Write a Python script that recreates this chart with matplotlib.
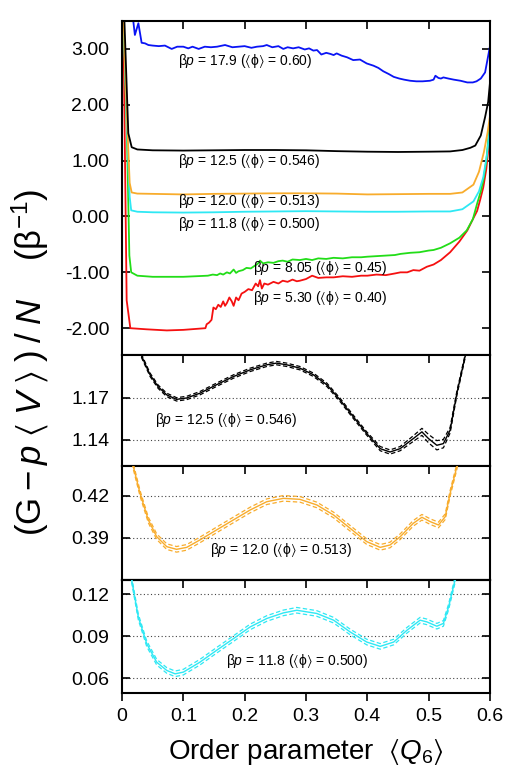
import matplotlib
matplotlib.use('Agg')
import matplotlib.pyplot as plt
from matplotlib.ticker import FormatStrFormatter
import numpy as np

plt.rcParams['font.family'] = ['Liberation Sans', 'DejaVu Sans']
plt.rcParams['mathtext.fontset'] = 'custom'
plt.rcParams['mathtext.rm'] = 'Liberation Sans'
plt.rcParams['mathtext.it'] = 'Liberation Sans:italic'
plt.rcParams['mathtext.bf'] = 'Liberation Sans:bold'
plt.rcParams['mathtext.fallback'] = 'stixsans'
plt.rcParams['axes.unicode_minus'] = False

# ---------------- data: top panel ----------------
x_179 = [0.004, 0.015, 0.0185, 0.021, 0.0267, 0.032, 0.0375, 0.043, 0.05, 0.06, 0.07, 0.081, 0.09, 0.1,
         0.108, 0.115, 0.125, 0.135, 0.145, 0.155, 0.168, 0.18, 0.19, 0.2, 0.211, 0.22, 0.23, 0.236,
         0.245, 0.255, 0.263, 0.27, 0.279, 0.288, 0.298, 0.305, 0.312, 0.318, 0.325, 0.333, 0.34, 0.345,
         0.35, 0.358, 0.367, 0.377, 0.388, 0.399, 0.41, 0.418, 0.426, 0.435, 0.443, 0.452, 0.46, 0.47,
         0.48, 0.49, 0.502, 0.508, 0.511, 0.516, 0.52, 0.524, 0.532, 0.541, 0.552, 0.563, 0.572, 0.578,
         0.585, 0.592, 0.6]
y_179 = [3.75, 3.55, 3.49, 3.25, 3.46, 3.11, 3.10, 3.07, 3.06, 3.05, 3.06, 3.00, 3.04, 3.04,
         3.01, 3.04, 3.00, 3.04, 3.03, 3.04, 3.07, 3.03, 3.04, 3.05, 3.02, 3.04, 3.05, 3.07,
         3.03, 3.05, 3.00, 3.03, 3.01, 3.03, 2.99, 3.01, 2.97, 2.98, 2.90, 2.93, 2.91, 2.89,
         2.92, 2.88, 2.85, 2.80, 2.81, 2.74, 2.70, 2.66, 2.60, 2.55, 2.50, 2.47, 2.45, 2.43,
         2.42, 2.42, 2.43, 2.45, 2.52, 2.48, 2.47, 2.49, 2.47, 2.45, 2.43, 2.40, 2.40, 2.42,
         2.47, 2.58, 3.05]

x_125 = [0.003, 0.0103, 0.0158, 0.025, 0.05, 0.1, 0.15, 0.2, 0.25, 0.3, 0.35, 0.4, 0.45, 0.5,
         0.535, 0.555, 0.568, 0.576, 0.585, 0.592, 0.597, 0.6]
y_125 = [3.8, 1.49, 1.24, 1.2, 1.185, 1.18, 1.185, 1.19, 1.19, 1.185, 1.17, 1.16, 1.155, 1.16,
         1.165, 1.19, 1.23, 1.27, 1.45, 1.78, 2.05, 2.4]

x_120 = [0.002, 0.008, 0.0125, 0.0158, 0.025, 0.05, 0.1, 0.15, 0.2, 0.25, 0.3, 0.35, 0.4, 0.45,
         0.5, 0.535, 0.555, 0.573, 0.582, 0.59, 0.596, 0.6]
y_120 = [3.7, 1.8, 0.6, 0.43, 0.41, 0.405, 0.395, 0.405, 0.41, 0.415, 0.415, 0.41, 0.395, 0.4,
         0.405, 0.405, 0.43, 0.57, 0.8, 1.15, 1.5, 1.8]

x_118 = [0.002, 0.008, 0.0125, 0.015, 0.025, 0.05, 0.1, 0.15, 0.2, 0.25, 0.3, 0.35, 0.4, 0.45,
         0.5, 0.535, 0.555, 0.573, 0.582, 0.589, 0.595, 0.6]
y_118 = [3.7, 1.6, 0.35, 0.11, 0.085, 0.075, 0.07, 0.075, 0.085, 0.09, 0.095, 0.09, 0.085, 0.085,
         0.09, 0.09, 0.13, 0.27, 0.45, 0.70, 1.1, 1.6]

x_805 = [0.002, 0.008, 0.012, 0.015, 0.025, 0.05, 0.08, 0.1, 0.12, 0.14, 0.148, 0.155, 0.16, 0.165,
         0.171, 0.176, 0.182, 0.186, 0.19, 0.197, 0.203, 0.21, 0.218, 0.222, 0.225, 0.23, 0.238,
         0.247, 0.255, 0.262, 0.27, 0.278, 0.29, 0.3, 0.31, 0.32, 0.333, 0.345, 0.36, 0.375, 0.39,
         0.4, 0.415, 0.43, 0.445, 0.454, 0.47, 0.485, 0.5, 0.508, 0.52, 0.535, 0.55, 0.562, 0.572,
         0.579, 0.585, 0.589, 0.594, 0.6]
y_805 = [3.7, 1.5, -0.7, -1.0, -1.06, -1.08, -1.08, -1.08, -1.07, -1.06, -1.04, -1.05, -1.02, -1.04,
         -1.0, -1.02, -0.95, -1.01, -0.98, -0.96, -0.92, -0.93, -0.87, -0.84, -0.79, -0.84, -0.82,
         -0.83, -0.80, -0.79, -0.81, -0.77, -0.78, -0.76, -0.78, -0.75, -0.76, -0.74, -0.75, -0.73,
         -0.73, -0.72, -0.71, -0.70, -0.69, -0.67, -0.65, -0.64, -0.61, -0.60, -0.56, -0.48, -0.38,
         -0.25, -0.05, 0.23, 0.45, 0.64, 1.0, 1.7]

x_530 = [0.002, 0.0076, 0.0136, 0.04, 0.073, 0.1, 0.136, 0.138, 0.142, 0.146, 0.149, 0.153, 0.157,
         0.161, 0.165, 0.168, 0.171, 0.175, 0.179, 0.182, 0.186, 0.19, 0.195, 0.2, 0.206, 0.212,
         0.218, 0.222, 0.225, 0.228, 0.232, 0.238, 0.247, 0.255, 0.262, 0.27, 0.278, 0.285, 0.29,
         0.3, 0.31, 0.32, 0.333, 0.345, 0.36, 0.375, 0.39, 0.4, 0.415, 0.43, 0.445, 0.454, 0.465,
         0.475, 0.485, 0.497, 0.508, 0.52, 0.535, 0.55, 0.563, 0.572, 0.579, 0.584, 0.589, 0.594, 0.6]
y_530 = [3.7, -1.5, -2.0, -2.02, -2.04, -2.03, -2.0, -1.93, -1.9, -1.85, -1.63, -1.66, -1.58,
         -1.62, -1.52, -1.60, -1.55, -1.45, -1.52, -1.60, -1.45, -1.50, -1.38, -1.35, -1.30, -1.32,
         -1.20, -1.25, -1.14, -1.29, -1.20, -1.22, -1.17, -1.20, -1.15, -1.17, -1.13, -1.16, -1.15,
         -1.12, -1.06, -1.10, -1.09, -1.09, -1.07, -1.08, -1.06, -1.06, -1.04, -1.05, -1.02, -1.0,
         -1.0, -0.96, -0.97, -0.9, -0.86, -0.78, -0.64, -0.45, -0.25, -0.05, 0.1, 0.3, 0.52, 0.85, 1.5]

# ---------------- data: detail panels ----------------
xd_125 = [0.026, 0.032, 0.0457, 0.059, 0.073, 0.089, 0.1055, 0.127, 0.154, 0.1816, 0.209, 0.236,
          0.2518, 0.2686, 0.29, 0.312, 0.334, 0.3556, 0.377, 0.399, 0.421, 0.437, 0.4535, 0.475,
          0.489, 0.4997, 0.5133, 0.524, 0.535, 0.546, 0.5595, 0.565]
yd_125 = [1.215, 1.1999, 1.1866, 1.178, 1.1722, 1.169, 1.170, 1.1734, 1.1794, 1.1853, 1.1901, 1.1937,
          1.1949, 1.1937, 1.1913, 1.1866, 1.1794, 1.1686, 1.1566, 1.1446, 1.1338, 1.1314, 1.1338,
          1.1410, 1.1458, 1.141, 1.1362, 1.1374, 1.147, 1.1734, 1.1999, 1.215]
ed_125 = [0.0012] * 20 + [0.0015, 0.0015, 0.0015, 0.002, 0.0025, 0.003, 0.0033, 0.003, 0.002,
                          0.0015, 0.0012, 0.0012]

xd_120 = [0.012, 0.0185, 0.0294, 0.0429, 0.0566, 0.073, 0.089, 0.1055, 0.127, 0.154, 0.1816, 0.209,
          0.236, 0.263, 0.29, 0.3176, 0.345, 0.372, 0.399, 0.421, 0.437, 0.4535, 0.475, 0.489,
          0.5024, 0.516, 0.527, 0.535, 0.546, 0.552]
yd_120 = [0.46, 0.441, 0.4219, 0.4029, 0.3909, 0.3838, 0.3819, 0.3833, 0.3886, 0.3957, 0.4029, 0.41,
          0.4159, 0.4183, 0.4176, 0.4136, 0.4064, 0.3969, 0.3874, 0.3833, 0.385, 0.3909, 0.4005,
          0.4048, 0.4017, 0.3993, 0.4052, 0.4219, 0.441, 0.46]
ed_120 = 0.002

xd_118 = [0.01, 0.0158, 0.0266, 0.0403, 0.0566, 0.073, 0.0865, 0.1, 0.127, 0.154, 0.1816, 0.209,
          0.236, 0.263, 0.285, 0.3176, 0.345, 0.372, 0.399, 0.421, 0.443, 0.4646, 0.486, 0.497,
          0.5133, 0.524, 0.5325, 0.543, 0.55]
yd_118 = [0.15, 0.13, 0.1036, 0.0845, 0.0713, 0.0654, 0.063, 0.0642, 0.0713, 0.0797, 0.0881, 0.0965,
          0.1025, 0.1065, 0.1084, 0.1061, 0.1013, 0.0929, 0.0857, 0.0826, 0.0857, 0.0941, 0.1013,
          0.1001, 0.097, 0.099, 0.1108, 0.13, 0.15]
ed_118 = 0.002

labels_top = ['17.9', '12.5', '12.0', '11.8', '8.05', '5.30']
phis_top = ['0.60', '0.546', '0.513', '0.500', '0.45', '0.40']
xticks = [0, 0.1, 0.2, 0.3, 0.4, 0.5, 0.6]
xticklabels = ['0', '0.1', '0.2', '0.3', '0.4', '0.5', '0.6']

C_BLUE = '#0a14f5'
C_BLACK = '#000000'
C_ORANGE = '#f8ac2c'
C_CYAN = '#2ee8f4'
C_GREEN = '#22dd18'
C_RED = '#f51010'

# ---------------- figure ----------------
fig = plt.figure(figsize=(5.18, 7.84), dpi=100)
L, W = 122 / 518, 368 / 518


def rect(top, bot):
    return [L, 1 - bot / 784, W, (bot - top) / 784]


ax1 = fig.add_axes(rect(21, 355))
ax2 = fig.add_axes(rect(355, 466))
ax3 = fig.add_axes(rect(466, 580))
ax4 = fig.add_axes(rect(580, 693))

for ax in (ax1, ax2, ax3, ax4):
    ax.set_xlim(0, 0.6)
    ax.set_xticks(xticks)
    for s in ax.spines.values():
        s.set_linewidth(1.5)
    ax.tick_params(axis='y', direction='in', length=6, width=1.2, left=True, right=True,
                   labelsize=14, pad=9)
    ax.tick_params(axis='x', direction='in', length=6, width=1.2, top=True, bottom=False,
                   labelbottom=False)
    ax.yaxis.set_major_formatter(FormatStrFormatter('%.2f'))

# top panel
ax1.set_ylim(-2.48, 3.5)
ax1.set_yticks([-2, -1, 0, 1, 2, 3])
lw = 1.3
ax1.plot(x_530, y_530, color=C_RED, lw=lw)
ax1.plot(x_805, y_805, color=C_GREEN, lw=lw)
ax1.plot(x_118, y_118, color=C_CYAN, lw=lw)
ax1.plot(x_120, y_120, color=C_ORANGE, lw=lw)
ax1.plot(x_125, y_125, color=C_BLACK, lw=lw)
ax1.plot(x_179, y_179, color=C_BLUE, lw=lw)

fs_ann = 10


def ann(b, ph):
    return r'$\mathrm{\beta}p$ = ' + b + r' ($\langle\mathrm{\phi}\rangle$ = ' + ph + ')'


label_pos = [(0.092, 2.78), (0.092, 0.99), (0.092, 0.27), (0.092, -0.13), (0.214, -0.93), (0.213, -1.46)]
for (lx, ly), b, ph in zip(label_pos, labels_top, phis_top):
    ax1.text(lx, ly, ann(b, ph), fontsize=fs_ann, va='center', ha='left')


def detail(ax, x, y, e, color, ylim, yticks, lx, ly, b, ph):
    x = np.asarray(x)
    y = np.asarray(y)
    e = np.broadcast_to(np.asarray(e, dtype=float), y.shape)
    ax.set_ylim(*ylim)
    ax.set_yticks(yticks)
    for t in yticks:
        ax.axhline(t, color='#444444', lw=0.8, ls=(0, (1, 2.2)), zorder=1)
    ax.plot(x, y, color=color, lw=1.0, zorder=3)
    ax.plot(x, y + e, color=color, lw=0.9, ls=(0, (3.5, 2)), zorder=3)
    ax.plot(x, y - e, color=color, lw=0.9, ls=(0, (3.5, 2)), zorder=3)
    ax.text(lx, ly, ann(b, ph), fontsize=fs_ann, va='center', ha='left')


detail(ax2, xd_125, yd_125, ed_125, C_BLACK, (1.1214, 1.2007), [1.14, 1.17],
       0.0538, 1.1542, '12.5', '0.546')
detail(ax3, xd_120, yd_120, ed_120, C_ORANGE, (0.36, 0.4414), [0.39, 0.42],
       0.1436, 0.3814, '12.0', '0.513')
detail(ax4, xd_118, yd_118, ed_118, C_CYAN, (0.0493, 0.13), [0.06, 0.09, 0.12],
       0.1697, 0.072, '11.8', '0.500')

# bottom axis: outward ticks with labels, top inward ticks via secondary axis
ax4.tick_params(axis='x', direction='out', length=6, width=1.2, top=False, bottom=True,
                labelbottom=True, labelsize=14, pad=5)
ax4.set_xticklabels(xticklabels)
sec = ax4.secondary_xaxis('top')
sec.set_xticks(xticks)
sec.tick_params(direction='in', length=6, width=1.2, labeltop=False)
sec.spines['top'].set_linewidth(1.5)

fig.text(306 / 518, 1 - 752 / 784, r'Order parameter  $\langle Q_{6}\rangle$', fontsize=20,
         ha='center', va='center')
fig.text(30 / 518, 1 - 362 / 784,
         r'$(\mathrm{G}\:-\:p\;\langle\; V\;\rangle\;)\;/\;N$    $(\mathrm{\beta}^{-1})$',
         fontsize=25, ha='center', va='center', rotation=90)

fig.savefig('out.png', dpi=100)
